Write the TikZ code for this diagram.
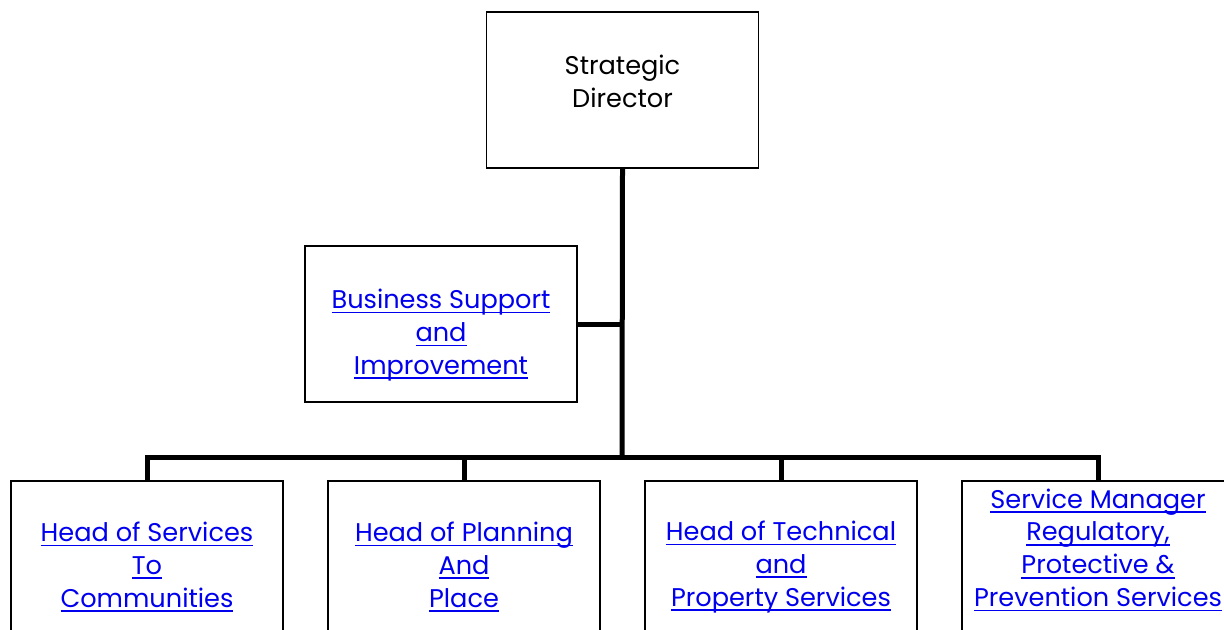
\documentclass[tikz,border=0pt]{standalone}
\usepackage{fontspec}
\setmainfont{Poppins}
\definecolor{linkblue}{RGB}{0,0,238}
\newcommand{\lnk}[1]{\textcolor{linkblue}{\setbox0\hbox{#1}\rlap{\rule[-2.4pt]{\wd0}{0.8pt}}\box0}}

\tikzset{
    post/.style={draw, line width=0.8pt, minimum width=136pt, inner sep=0pt},
    postname/.style={align=center, font=\fontsize{12.8}{16.4}\selectfont},
    branch/.style={line width=2.5pt},
}

\begin{document}
\begin{tikzpicture}[x=0.5pt, y=-0.5pt]
        \useasboundingbox (0,0) rectangle (1224,629);
        \clip (0,0) rectangle (1224,629);
        \node[post, minimum height=78pt] (sd) at (622.5,90) {};
        \node[postname] (sdtext) at (622.5,81) {Strategic\\Director};
        \node[post, minimum height=78pt] (bs) at (441,324) {};
        \node[postname] (bstext) at (441,335) {\lnk{Business Support}\\\lnk{and}\\\lnk{Improvement}};
        \node[post, postname, anchor=north, minimum height=86pt] (h1) at (147,480) {\lnk{Head of Services}\\\lnk{To}\\\lnk{Communities}};
        \node[post, postname, anchor=north, minimum height=86pt] (h2) at (464,480) {\lnk{Head of Planning}\\\lnk{And}\\\lnk{Place}};
        \node[post, postname, anchor=north, minimum height=86pt] (h3) at (781,480) {\lnk{Head of Technical}\\\lnk{and}\\\lnk{Property Services}};
        \node[post, anchor=north, minimum width=150pt, minimum height=86pt] (h4) at (1112,480) {};
        \node[postname] (h4text) at (1098,550) {\lnk{Service Manager}\\\lnk{Regulatory,}\\\lnk{Protective \&}\\\lnk{Prevention Services}};
        \coordinate (bar) at (622,457);
        \draw[branch] (sd.south) -- (bar);
        \draw[branch] (bs.east) -- (bs.east -| bar);
        \foreach \h in {h1,h2,h3} {
                \draw[branch] (\h.north) |- (bar);
            }
        \draw[branch] (h4text |- h4.north) |- (bar);
    \end{tikzpicture}
\end{document}
